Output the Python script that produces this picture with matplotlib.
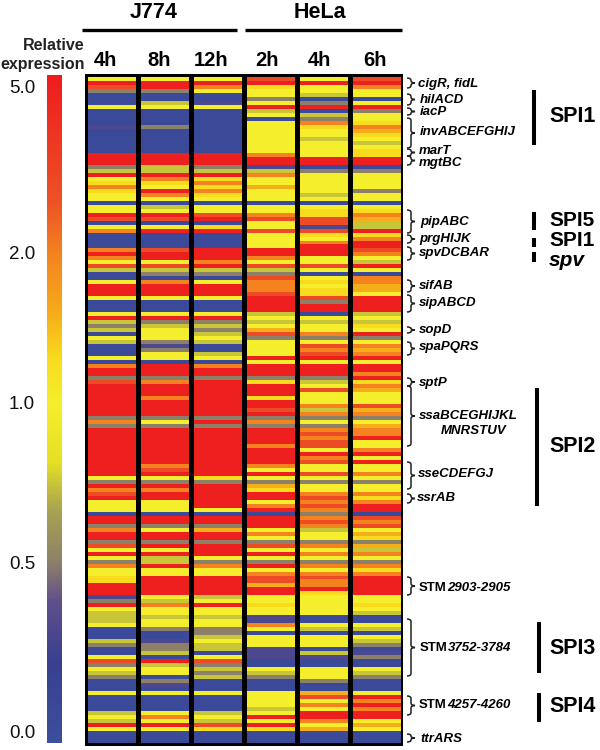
import numpy as np
import matplotlib
matplotlib.use('Agg')
import matplotlib.pyplot as plt
from matplotlib.colors import LinearSegmentedColormap, FuncNorm
from matplotlib.path import Path
from matplotlib.patches import PathPatch

plt.rcParams['font.family'] = ['Liberation Sans', 'DejaVu Sans']

# colour codes -> relative expression
levels = {'R': 5.0, 'r': 3.2, 'O': 2.0, 'o': 1.6, 'y': 1.3, 'Y': 1.0,
          'K': 0.75, 'G': 0.5, 'P': 0.3, 'B': 0.05}

# one letter per gene row, top to bottom, four blocks of 41/42/42/42 rows
j774_4h = ["YRrGBBBYBB BBPBBBBBBR RRGKRYyOyY YBYYRrBYOB B",
           "BBOROYrKBB YRRRYBBBYR KGKBYKBBBY BORRGrRRRRRR",
           "RRGOGRRRRR RRRRRRRYGR OrRYYYBRRG ORRGrYRYGO YY",
           "yyRRRPGRYK KKYBBBKGBB YrGYKGBBBY BBBBKYKRYB BB"]
j774_8h = ["YRRGBBKYBB BBGBBBBBBR RRKKROyYRO YBKYRrBYRB B",
           "BBrRRYrKGB ORRRYBBBYR GKYYYGPGYY BRRRGORRRORR",
           "RRGYGRRRRR RRRROrRYGR ORRYYYBRRG YRRGRYRKKR YY",
           "RRRRRYKOYY KYYGBBPGGK BRKYYBGPBY BBBBYOYRYB BB"]
j774_12h = ["YROYBBPYBB BBBBBBBBBR RRGKRyOyOy YBYYrRByRB B",
            "BBRRRORKGB YRRRYBBBYR GKGKYKBBKY BORRGRRRRRRR",
            "RRGRGRRRRR RRRRRRRyGR RRRRRYBRRG oRRGRRRYGO YY",
            "RRRRRKYRYY KYYGGKYKKB YrGKGKBBBY BBBBKYKryB BB"]
hela_2h = ["rRyYYGYRKY BYYYYYYYYO RRPKOYYoYY YBYYOrYYrY Y",
           "YYRROYrKGr OOOrRRRRKY KYorGYYYYR YRRRGyRRRyRR",
           "rRGOGRRRRO RRRROYRYGo yRRYORBRRR YOYGrYRYGR YO",
           "rroRRYYyYY PPOYBYYYPP PBBYKGBBBY YYYKYRYRyB BB"]
hela_4h = ["YRYYKBGRBK GOyYYKYYYY RRBGYYYYYK YBYyyrrPry Y",
           "ORRRYYrYBY yYyyrGRRBY KYYOGYrOrR YRRRGKYrYYYO",
           "KOGYGOrOrr YROrYYrYGY YOrOrOGOrO KYYGOYOYGO YO",
           "rOORyYYYYY BBYKBYYYBK PBBYYYGBBo rYOYRROYoB BB"]
hela_6h = ["rROYYBYRGY YyOoyYKYyy RRBGYYYYGY YBYyOoKKRy O",
           "RRrOYKRYBO OooYRRRRKY KyYRGYOoOR YRRORyOoYYYr",
           "oOGYoOORYY ORYRYYOYGY YOyORRBrOr YoyGoKOYGO yO",
           "RRRRRYYyYK BBYKBYKGBP GBBYKGBBBY RORORRYoYB BB"]

columns = [j774_4h, j774_8h, j774_12h, hela_2h, hela_4h, hela_6h]
time_labels = ['4h', '8h', '12h', '2h', '4h', '6h']
time_x = [105, 159, 211, 267, 319, 375]

bar_ticks = [0.0, 0.5, 1.0, 2.0, 5.0]
bar_tick_labels = ['0.0', '0.5', '1.0', '2.0', '5.0']

# (label, brace top, brace bottom, label x, label y)
gene_labels = [('cigR, fidL', 78, 88, 418, 84), ('hilACD', 94, 105, 420, 100),
               ('iacP', 108, 115, 420, 112), ('invABCEFGHIJ', 118, 148, 420, 132),
               ('marT', 149, 156, 419, 151), ('mgtBC', 156, 165, 419, 163),
               ('pipABC', 210, 233, 420, 222), ('prgHIJK', 235, 243, 419, 239),
               ('spvDCBAR', 247, 260, 419, 253), ('sifAB', 280, 292, 419, 286),
               ('sipABCD', 295, 312, 419, 303), ('sopD', 327, 333, 419, 330),
               ('spaPQRS', 342, 355, 419, 347), ('sptP', 378, 386, 419, 383),
               ('ssaBCEGHIJKL', 386, 446, 419, 416), ('sseCDEFGJ', 462, 489, 418, 474),
               ('ssrAB', 494, 503, 417, 498), ('ttrARS', 734, 742, 420, 739)]
stm_labels = [('2903-2905', 577, 595, 419, 588), ('3752-3784', 619, 676, 420, 648),
              ('4257-4260', 696, 715, 419, 705)]

# (label, bar top, bar bottom, bar x, label y, font size)
island_labels = [('SPI1', 90, 145, 534, 117, 15.5), ('SPI5', 212, 230, 534, 220.5, 15),
                 ('SPI1', 238, 247, 534, 240.5, 15), ('spv', 252, 262, 534, 260, 15),
                 ('SPI2', 388, 506, 537, 447, 15.5), ('SPI3', 622, 673, 539, 648, 15.5),
                 ('SPI4', 693, 722, 539, 706, 15.5)]


def to_values(col):
    rows = ''.join(col).replace(' ', '')
    return np.array([levels[c] for c in rows])


for col in columns:
    assert [len(b.replace(' ', '')) for b in col] == [41, 42, 42, 42]

# position on the colour bar for each tick, from the picture
norm_vals = [-0.03, 0.0, 0.5, 1.0, 2.0, 5.0, 5.5]
norm_pos = [0.0, 0.017, 0.27, 0.509, 0.734, 0.983, 1.0]


def forward(v):
    return np.interp(v, norm_vals, norm_pos)


def inverse(p):
    return np.interp(p, norm_pos, norm_vals)


norm = FuncNorm((forward, inverse), vmin=-0.03, vmax=5.5)
cmap = LinearSegmentedColormap.from_list('expr', [
    (0.0, '#3b4f9c'), (0.12, '#3a3f90'), (0.21, '#5e4f8a'), (0.27, '#8d8068'),
    (0.35, '#a8a450'), (0.42, '#e5e024'), (0.509, '#f5ee2c'), (0.575, '#f7dc1c'),
    (0.65, '#f6a81a'), (0.734, '#f3821f'), (0.81, '#ed5226'), (1.0, '#ee1c1e')])

W, H = 600, 750
fig = plt.figure(figsize=(6, 7.5), dpi=100)


def px_axes(x0, y0, x1, y1):
    return fig.add_axes([x0 / W, 1 - y1 / H, (x1 - x0) / W, (y1 - y0) / H])


# heat map: black frame, one mesh per column
ax = px_axes(85, 74, 403, 746)
ax.set_facecolor('black')
n_rows = len(to_values(j774_4h))
edges = np.linspace(0, n_rows, n_rows + 1)
for i, col in enumerate(columns):
    vals = to_values(col).reshape(-1, 1)
    mesh = ax.pcolormesh([i + 0.055, i + 0.955], edges, vals, cmap=cmap, norm=norm, rasterized=True)
pad = 3 / 3.99
ax.set_xlim(0, 6)
ax.set_ylim(n_rows + pad, -pad)
ax.set_xticks([])
ax.set_yticks([])
for s in ax.spines.values():
    s.set_visible(False)

# colour bar
cax = px_axes(47, 75, 62, 743)
cb = fig.colorbar(mesh, cax=cax, ticks=bar_ticks)
cb.outline.set_visible(False)
cb.ax.set_yticklabels(bar_tick_labels, fontsize=13.5, color='#111111')
cb.ax.yaxis.set_ticks_position('left')
cb.ax.tick_params(length=0, pad=8.5)
cb.ax.minorticks_off()

# everything else is placed in pixels on an overlay
ov = fig.add_axes([0, 0, 1, 1])
ov.set_xlim(0, W)
ov.set_ylim(H, 0)
ov.axis('off')

ov.plot([82, 237], [30, 30], color='black', lw=2.4, solid_capstyle='butt')
ov.plot([245, 402], [30, 30], color='black', lw=2.4, solid_capstyle='butt')
ov.text(154, 12, 'J774', fontsize=15.5, fontweight='bold', ha='center', va='center')
ov.text(320, 12, 'HeLa', fontsize=15.5, fontweight='bold', ha='center', va='center')
for x, lab in zip(time_x, time_labels):
    ov.text(x, 60, lab, fontsize=14.5, fontweight='bold', ha='center', va='center')
ov.text(54, 46, 'Relative', fontsize=11.5, fontweight='bold', ha='center', va='center', color='#222222')
ov.text(43, 65, 'expression', fontsize=11.5, fontweight='bold', ha='center', va='center', color='#222222')


def brace(top, bottom, x0=407, w=8):
    mid = (top + bottom) / 2
    r = min(2.5, (bottom - top) / 4)
    xm = x0 + w * 0.5
    verts = [(x0, top), (xm, top), (xm, top + r), (xm, mid - r), (xm, mid), (x0 + w, mid),
             (xm, mid), (xm, mid + r), (xm, bottom - r), (xm, bottom), (x0, bottom)]
    codes = [Path.MOVETO, Path.CURVE3, Path.CURVE3, Path.LINETO, Path.CURVE3, Path.CURVE3,
             Path.CURVE3, Path.CURVE3, Path.LINETO, Path.CURVE3, Path.CURVE3]
    ov.add_patch(PathPatch(Path(verts, codes), fc='none', ec='#222222', lw=1.1))


for lab, top, bottom, x, y in gene_labels:
    brace(top, bottom)
    ov.text(x, y, lab, fontsize=9.5, fontweight='bold', style='italic', va='center')
ov.text(441, 431, 'MNRSTUV', fontsize=9.5, fontweight='bold', style='italic', va='center')

for lab, top, bottom, x, y in stm_labels:
    brace(top, bottom)
    ov.text(x, y, 'STM', fontsize=9.5, fontweight='bold', va='center')
    ov.text(x + 28, y, lab, fontsize=9.5, fontweight='bold', style='italic', va='center')

for lab, top, bottom, x, y, size in island_labels:
    ov.plot([x, x], [top, bottom], color='black', lw=2.9, solid_capstyle='butt')
    ov.text(549, y, lab, fontsize=size, fontweight='bold', va='center',
            style='italic' if lab == 'spv' else 'normal')

fig.savefig('out.png', dpi=100)
